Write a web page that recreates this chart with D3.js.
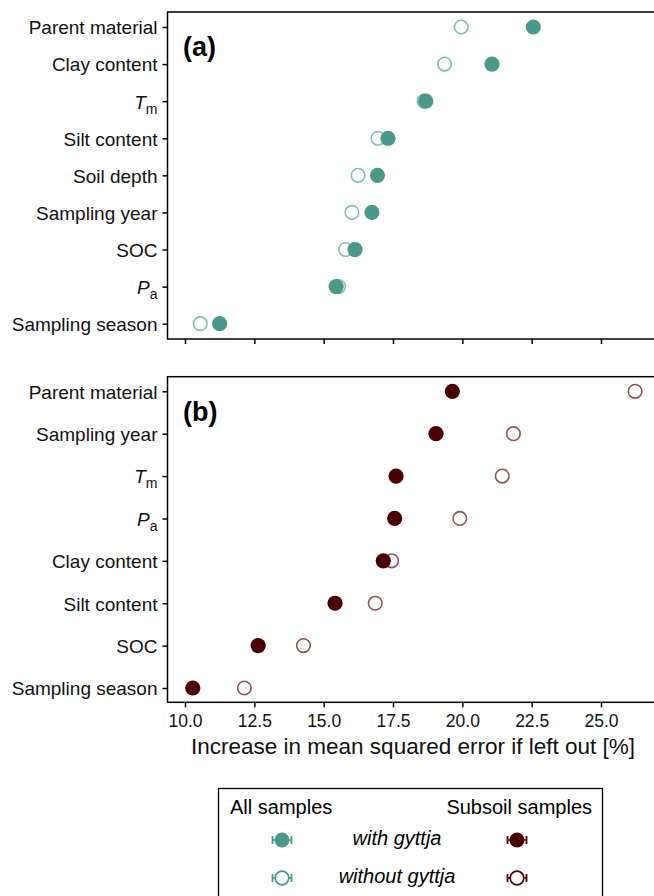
<!DOCTYPE html>
<html>
<head>
<meta charset="utf-8">
<script src="https://cdn.jsdelivr.net/npm/d3@7"></script>
<style>
  body { margin: 0; background: #fff; }
  svg { font-family: "Liberation Sans", Arial, sans-serif; }
</style>
</head>
<body>
<div id="chart"></div>
<script>
// chart data
var labelsA = ["Parent material", "Clay content", "Tm", "Silt content", "Soil depth",
               "Sampling year", "SOC", "Pa", "Sampling season"];
var withA    = [22.56, 21.07, 18.68, 17.32, 16.94, 16.74, 16.13, 15.45, 11.25];
var withoutA = [19.96, 19.36, 18.62, 16.96, 16.24, 16.02, 15.79, 15.54, 10.55];

var labelsB = ["Parent material", "Sampling year", "Tm", "Pa", "Clay content",
               "Silt content", "SOC", "Sampling season"];
var withB    = [19.64, 19.05, 17.61, 17.56, 17.15, 15.41, 12.64, 10.28];
var withoutB = [26.23, 21.84, 21.44, 19.91, 17.45, 16.86, 14.27, 12.14];

var xTicks = [10, 12.5, 15, 17.5, 20, 22.5, 25];

var teal = "#4a9988", tealLight = "#80c0b3";
var red = "#4a0000", redLight = "#8f5555";

var svgWidth = 654, svgHeight = 896;
var svg = d3.select("#chart").append("svg")
  .attr("width", svgWidth)
  .attr("height", svgHeight);

// shared x scale, panels run past the right edge
var x = d3.scaleLinear().domain([10, 25]).range([185, 601]);
var left = 167.5, right = 700;

function panel(top, bottom, yFirst, yLast, labels, filled, open, col, colLight, tag) {
  var y = d3.scalePoint().domain(labels).range([yFirst, yLast]);
  var g = svg.append("g");

  g.append("rect")
    .attr("x", left).attr("y", top)
    .attr("width", right - left).attr("height", bottom - top)
    .attr("fill", "none").attr("stroke", "#000").attr("stroke-width", 1.5);

  // y axis with ticks and labels
  var yAxis = g.append("g")
    .attr("transform", "translate(" + left + ",0)")
    .call(d3.axisLeft(y).tickSize(5).tickPadding(4).tickFormat(""));
  yAxis.select(".domain").remove();
  yAxis.selectAll(".tick line").attr("stroke-width", 1.5);
  yAxis.selectAll(".tick").each(function (d) {
    var t = d3.select(this).append("text")
      .attr("x", -10).attr("dy", "0.36em")
      .attr("text-anchor", "end")
      .attr("fill", "#111")
      .style("font-size", "19px");
    if (d === "Tm" || d === "Pa") {
      t.append("tspan").style("font-style", "italic").text(d[0]);
      t.append("tspan").attr("dy", "5").style("font-size", "14px").text(d.slice(1));
    } else {
      t.text(d);
    }
  });

  // x axis ticks
  var xAxis = g.append("g")
    .attr("transform", "translate(0," + bottom + ")")
    .call(d3.axisBottom(x).tickValues(xTicks).tickSize(5).tickPadding(7)
      .tickFormat(tag === "(b)" ? d3.format(".1f") : ""));
  xAxis.select(".domain").remove();
  xAxis.selectAll(".tick line").attr("stroke-width", 1.5);
  xAxis.selectAll(".tick text").style("font-size", "17.5px").attr("fill", "#111");

  // open circles (without gyttja) behind filled ones
  g.selectAll(".open").data(labels).enter().append("circle")
    .attr("cx", function (d, i) { return x(open[i]); })
    .attr("cy", function (d) { return y(d); })
    .attr("r", 6.8)
    .attr("fill", "#fff")
    .attr("stroke", colLight)
    .attr("stroke-width", 1.6);

  g.selectAll(".filled").data(labels).enter().append("circle")
    .attr("cx", function (d, i) { return x(filled[i]); })
    .attr("cy", function (d) { return y(d); })
    .attr("r", 7.6)
    .attr("fill", col);

  g.append("text")
    .attr("x", 183).attr("y", top + 44)
    .style("font-size", "27px").style("font-weight", "bold")
    .text(tag);
}

panel(12, 339, 27, 323.7, labelsA, withA, withoutA, teal, tealLight, "(a)");
panel(376.7, 702.3, 391.3, 688, labelsB, withB, withoutB, red, redLight, "(b)");

// axis title
svg.append("text")
  .attr("x", 413).attr("y", 754)
  .attr("text-anchor", "middle")
  .style("font-size", "22.5px")
  .attr("fill", "#111")
  .text("Increase in mean squared error if left out [%]");

// legend
var leg = svg.append("g").style("font-size", "20px");
leg.append("rect")
  .attr("x", 218.5).attr("y", 788.5)
  .attr("width", 384).attr("height", 130)
  .attr("fill", "#fff").attr("stroke", "#000").attr("stroke-width", 1.3);

leg.append("text").attr("x", 230).attr("y", 814).text("All samples");
leg.append("text").attr("x", 592).attr("y", 814)
  .attr("text-anchor", "end").text("Subsoil samples");
leg.append("text").attr("x", 397).attr("y", 845)
  .attr("text-anchor", "middle").style("font-style", "italic")
  .text("with gyttja");
leg.append("text").attr("x", 397).attr("y", 883)
  .attr("text-anchor", "middle").style("font-style", "italic")
  .text("without gyttja");

var legendRows = [
  { cx: 282, cy: 840, col: teal, fill: true },
  { cx: 282, cy: 878, col: teal, fill: false },
  { cx: 517, cy: 840, col: red, fill: true },
  { cx: 517, cy: 878, col: red, fill: false }
];
legendRows.forEach(function (s) {
  leg.append("line")
    .attr("x1", s.cx - 9.5).attr("x2", s.cx + 9.5)
    .attr("y1", s.cy).attr("y2", s.cy)
    .attr("stroke", s.col).attr("stroke-width", 1.5);
  [-9.5, 9.5].forEach(function (dx) {
    leg.append("line")
      .attr("x1", s.cx + dx).attr("x2", s.cx + dx)
      .attr("y1", s.cy - 4).attr("y2", s.cy + 4)
      .attr("stroke", s.col).attr("stroke-width", 1.8);
  });
  leg.append("circle")
    .attr("cx", s.cx).attr("cy", s.cy)
    .attr("r", s.fill ? 7.5 : 6.8)
    .attr("fill", s.fill ? s.col : "#fff")
    .attr("stroke", s.fill ? "none" : s.col)
    .attr("stroke-width", 1.7);
});
</script>
</body>
</html>
